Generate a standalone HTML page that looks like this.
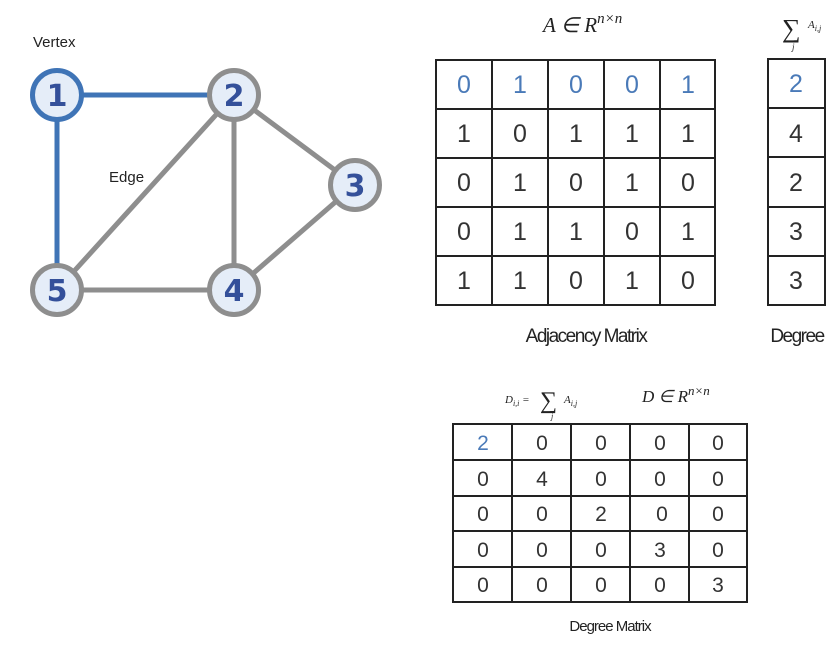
<!DOCTYPE html>
<html><head><meta charset="utf-8"><style>
body{margin:0;background:#fff;}
svg{display:block;}
.n{font-family:"DejaVu Sans","Liberation Sans",sans-serif;font-weight:bold;font-size:30px;fill:#34509a;text-anchor:middle;}
.d{font-family:"Liberation Sans",sans-serif;font-size:25px;fill:#333;text-anchor:middle;}
.s{font-family:"Liberation Sans",sans-serif;font-size:21px;fill:#333;text-anchor:middle;}
.b{fill:#4a7ab8;}
.m{font-family:"Liberation Serif",serif;font-style:italic;fill:#222;}
.l{font-family:"Liberation Sans",sans-serif;fill:#222;}
</style></head><body>
<svg width="840" height="646" viewBox="0 0 840 646" xmlns="http://www.w3.org/2000/svg">
<text x="33" y="47" class="l" font-size="15">Vertex</text>
<text x="109" y="182" class="l" font-size="15">Edge</text>
<g stroke="#8e8e8e" stroke-width="5">
<line x1="234" y1="95" x2="355" y2="185"/>
<line x1="234" y1="95" x2="234" y2="290"/>
<line x1="234" y1="95" x2="57" y2="290"/>
<line x1="57" y1="290" x2="234" y2="290"/>
<line x1="234" y1="290" x2="355" y2="185"/>
</g>
<g stroke="#3f74b6" stroke-width="5">
<line x1="57" y1="95" x2="234" y2="95"/>
<line x1="57" y1="95" x2="57" y2="290"/>
</g>
<g fill="#e5edf8" stroke-width="5">
<circle cx="57" cy="95" r="24.5" stroke="#3f74b6"/>
<circle cx="234" cy="95" r="24.5" stroke="#8e8e8e"/>
<circle cx="355" cy="185" r="24.5" stroke="#8e8e8e"/>
<circle cx="234" cy="290" r="24.5" stroke="#8e8e8e"/>
<circle cx="57" cy="290" r="24.5" stroke="#8e8e8e"/>
</g>
<text x="57" y="106" class="n">1</text>
<text x="234" y="106" class="n">2</text>
<text x="355" y="196" class="n">3</text>
<text x="234" y="301" class="n">4</text>
<text x="57" y="301" class="n">5</text>

<!-- A in R -->
<text x="543" y="32" class="m" font-size="21">A ∈ R<tspan font-size="15" dy="-9">n×n</tspan></text>
<!-- adjacency -->
<g stroke="#222" stroke-width="2" fill="none">
<rect x="436" y="60" width="279" height="245"/>
<line x1="492" y1="60" x2="492" y2="305"/><line x1="548" y1="60" x2="548" y2="305"/>
<line x1="604" y1="60" x2="604" y2="305"/><line x1="660" y1="60" x2="660" y2="305"/>
<line x1="436" y1="109" x2="715" y2="109"/><line x1="436" y1="158" x2="715" y2="158"/>
<line x1="436" y1="207" x2="715" y2="207"/><line x1="436" y1="256" x2="715" y2="256"/>
<rect x="768" y="59" width="57" height="246"/>
<line x1="768" y1="108" x2="825" y2="108"/><line x1="768" y1="157" x2="825" y2="157"/>
<line x1="768" y1="207" x2="825" y2="207"/><line x1="768" y1="256" x2="825" y2="256"/>
</g>
<g class="d">
<text x="464" y="93" class="d b">0</text><text x="520" y="93" class="d b">1</text><text x="576" y="93" class="d b">0</text><text x="632" y="93" class="d b">0</text><text x="688" y="93" class="d b">1</text>
<text x="464" y="142">1</text><text x="520" y="142">0</text><text x="576" y="142">1</text><text x="632" y="142">1</text><text x="688" y="142">1</text>
<text x="464" y="191">0</text><text x="520" y="191">1</text><text x="576" y="191">0</text><text x="632" y="191">1</text><text x="688" y="191">0</text>
<text x="464" y="240">0</text><text x="520" y="240">1</text><text x="576" y="240">1</text><text x="632" y="240">0</text><text x="688" y="240">1</text>
<text x="464" y="289">1</text><text x="520" y="289">1</text><text x="576" y="289">0</text><text x="632" y="289">1</text><text x="688" y="289">0</text>
<text x="796" y="92" class="d b">2</text><text x="796" y="142">4</text><text x="796" y="191">2</text><text x="796" y="240">3</text><text x="796" y="289">3</text>
</g>
<text x="586" y="342" class="l" font-size="19" text-anchor="middle" letter-spacing="-1.5">Adjacency Matrix</text>
<text x="797" y="342" class="l" font-size="19" text-anchor="middle" letter-spacing="-1.5">Degree</text>
<!-- sum top right -->
<text x="782" y="37" class="m" font-size="26">∑</text>
<text x="808" y="28" class="m" font-size="11">A<tspan font-size="8" dy="3">i,j</tspan></text>
<text x="792" y="50" class="m" font-size="9">j</text>

<!-- degree matrix formula -->
<text x="505" y="403" class="m" font-size="11">D<tspan font-size="8" dy="3">i,i</tspan><tspan dy="-3"> =</tspan></text>
<text x="540" y="408" class="m" font-size="24">∑</text>
<text x="564" y="403" class="m" font-size="11">A<tspan font-size="8" dy="3">i,j</tspan></text>
<text x="551" y="419" class="m" font-size="8">j</text>
<text x="642" y="402" class="m" font-size="17">D  ∈ R<tspan font-size="13" dy="-7">n×n</tspan></text>
<g stroke="#222" stroke-width="2" fill="none">
<rect x="453" y="424" width="294" height="178"/>
<line x1="512" y1="424" x2="512" y2="602"/><line x1="571" y1="424" x2="571" y2="602"/>
<line x1="630" y1="424" x2="630" y2="602"/><line x1="689" y1="424" x2="689" y2="602"/>
<line x1="453" y1="460" x2="747" y2="460"/><line x1="453" y1="496" x2="747" y2="496"/>
<line x1="453" y1="531" x2="747" y2="531"/><line x1="453" y1="567" x2="747" y2="567"/>
</g>
<g class="s">
<text x="483" y="450" class="s b">2</text><text x="542" y="450">0</text><text x="601" y="450">0</text><text x="660" y="450">0</text><text x="718" y="450">0</text>
<text x="483" y="486">0</text><text x="542" y="486">4</text><text x="601" y="486">0</text><text x="660" y="486">0</text><text x="718" y="486">0</text>
<text x="483" y="521">0</text><text x="542" y="521">0</text><text x="601" y="521">2</text><text x="662" y="521">0</text><text x="718" y="521">0</text>
<text x="483" y="557">0</text><text x="542" y="557">0</text><text x="601" y="557">0</text><text x="660" y="557">3</text><text x="718" y="557">0</text>
<text x="483" y="592">0</text><text x="542" y="592">0</text><text x="601" y="592">0</text><text x="660" y="592">0</text><text x="718" y="592">3</text>
</g>
<text x="610" y="631" class="l" font-size="15" text-anchor="middle" letter-spacing="-1">Degree Matrix</text>
</svg>
</body></html>
